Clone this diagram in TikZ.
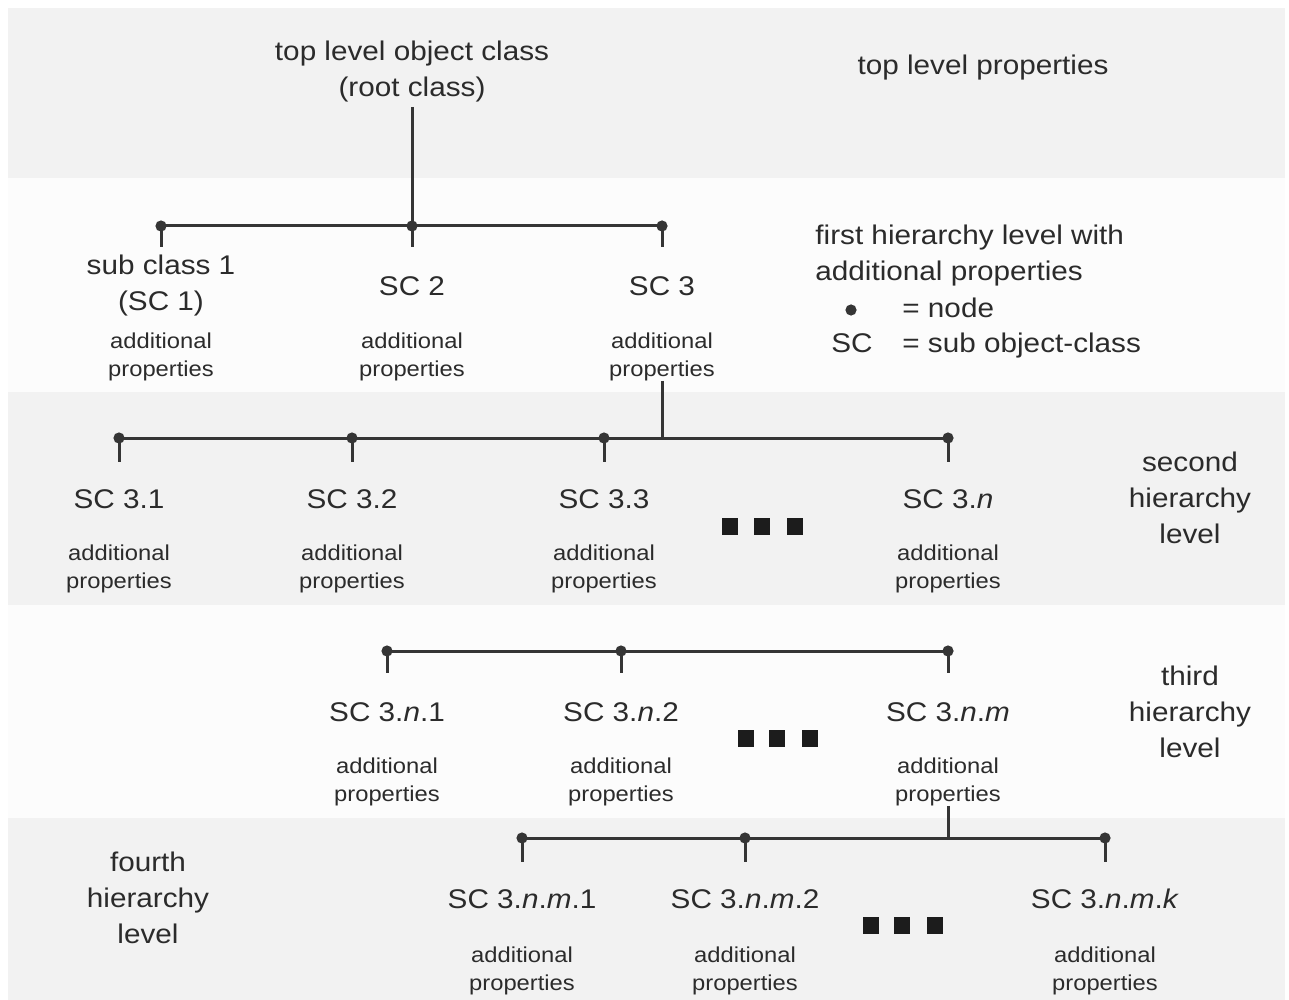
\documentclass[tikz,border=0pt]{standalone}
\usepackage{fontspec}
\setmainfont{Liberation Sans}[FakeStretch=1.1]
\definecolor{bandgray}{HTML}{F2F2F2}
\definecolor{offwhite}{HTML}{FCFCFC}
\definecolor{linegray}{HTML}{353535}
\definecolor{txt}{HTML}{2B2B2B}
\definecolor{sq}{HTML}{1C1C1C}
\tikzset{
  band/.style={fill=bandgray, draw=none},
  conn/.style={draw=linegray, line width=1.5pt},
  dot/.style={circle, fill=linegray, inner sep=0pt, minimum size=5.6pt},
  big/.style={font=\fontsize{13.5}{18}\selectfont, text=txt, inner sep=0pt, align=center},
  small/.style={font=\fontsize{10.8}{14}\selectfont, text=txt, inner sep=0pt, align=center},
  etc/.style={fill=sq, minimum width=8pt, minimum height=8.5pt, inner sep=0pt}
}
\begin{document}
\begin{tikzpicture}[x=0.5pt,y=-0.5pt]
\useasboundingbox (0,0) rectangle (1289,1000);
% background bands
\fill[offwhite] (8,8) rectangle (1285,1000);
\fill[band] (8,8) rectangle (1285,178);
\fill[band] (8,392) rectangle (1285,605);
\fill[band] (8,818) rectangle (1285,1000);

% top level (multi-line nodes: base = baseline of last line)
\node[big, anchor=base] (root) at (412,97) {top level object class\\(root class)};
\node[big, anchor=base] (toprops) at (983,75) {top level properties};

% first hierarchy level
\node[dot] (d1) at (161,226) {};
\node[dot] (d2) at (412,226) {};
\node[dot] (d3) at (662,226) {};
\node[big, anchor=base] (sc1) at (161,310) {sub class 1\\(SC 1)};
\node[big, anchor=base] (sc2) at (412,295) {SC 2};
\node[big, anchor=base] (sc3) at (662,295) {SC 3};
\node[small, anchor=base] (p1) at (161,376) {additional\\properties};
\node[small, anchor=base] (p2) at (412,376) {additional\\properties};
\node[small, anchor=base] (p3) at (662,376) {additional\\properties};

% legend
\node[big, anchor=base west, align=left] (leg) at (815,280) {first hierarchy level with\\additional properties};
\node[dot] (ldot) at (851,310) {};
\node[big, anchor=base west] (eqnode) at (902,317) {= node};
\node[big, anchor=base] (lsc) at (852,352) {SC};
\node[big, anchor=base west] (eqsc) at (902,352) {= sub object-class};

% second hierarchy level
\node[dot] (e1) at (119,438) {};
\node[dot] (e2) at (352,438) {};
\node[dot] (e3) at (604,438) {};
\node[dot] (e4) at (948,438) {};
\node[big, anchor=base] (sc31) at (119,508) {SC 3.1};
\node[big, anchor=base] (sc32) at (352,508) {SC 3.2};
\node[big, anchor=base] (sc33) at (604,508) {SC 3.3};
\node[big, anchor=base] (sc3n) at (948,508) {SC 3.\textit{n}};
\node[small, anchor=base] (p31) at (119,588) {additional\\properties};
\node[small, anchor=base] (p32) at (352,588) {additional\\properties};
\node[small, anchor=base] (p33) at (604,588) {additional\\properties};
\node[small, anchor=base] (p3n) at (948,588) {additional\\properties};
\node[etc] (sqa1) at (729.5,526.5) {};
\node[etc] (sqa2) at (762,526.5) {};
\node[etc] (sqa3) at (794.5,526.5) {};
\node[big, anchor=base] (lvl2) at (1190,543) {second\\hierarchy\\level};

% third hierarchy level
\node[dot] (f1) at (387,651) {};
\node[dot] (f2) at (621,651) {};
\node[dot] (f3) at (948,651) {};
\node[big, anchor=base] (sc3n1) at (387,721) {SC 3.\textit{n}.1};
\node[big, anchor=base] (sc3n2) at (621,721) {SC 3.\textit{n}.2};
\node[big, anchor=base] (sc3nm) at (948,721) {SC 3.\textit{n}.\textit{m}};
\node[small, anchor=base] (p3n1) at (387,801) {additional\\properties};
\node[small, anchor=base] (p3n2) at (621,801) {additional\\properties};
\node[small, anchor=base] (p3nm) at (948,801) {additional\\properties};
\node[etc] (sqb1) at (745.5,738.5) {};
\node[etc] (sqb2) at (777,738.5) {};
\node[etc] (sqb3) at (809.5,738.5) {};
\node[big, anchor=base] (lvl3) at (1190,757) {third\\hierarchy\\level};

% fourth hierarchy level
\node[dot] (g1) at (522,838) {};
\node[dot] (g2) at (745,838) {};
\node[dot] (g3) at (1105,838) {};
\node[big, anchor=base] (sc3nm1) at (522,908) {SC 3.\textit{n}.\textit{m}.1};
\node[big, anchor=base] (sc3nm2) at (745,908) {SC 3.\textit{n}.\textit{m}.2};
\node[big, anchor=base] (sc3nmk) at (1105,908) {SC 3.\textit{n}.\textit{m}.\textit{k}};
\node[small, anchor=base] (p3nm1) at (522,990) {additional\\properties};
\node[small, anchor=base] (p3nm2) at (745,990) {additional\\properties};
\node[small, anchor=base] (p3nmk) at (1105,990) {additional\\properties};
\node[etc] (sqc1) at (870.5,925) {};
\node[etc] (sqc2) at (902,925) {};
\node[etc] (sqc3) at (934.5,925) {};
\node[big, anchor=base] (lvl4) at (148,943) {fourth\\hierarchy\\level};

% connectors level 1
\draw[conn] ([yshift=-2pt]root.south) -- (d2.center);
\draw[conn] (d1.center) -- (d3.center);
\foreach \n in {d1,d2,d3} \draw[conn] (\n.center) -- ++(0,21);
% connectors level 2
\draw[conn] (p3.south) -- (p3.south |- e1.center);
\draw[conn] (e1.center) -- (e4.center);
\foreach \n in {e1,e2,e3,e4} \draw[conn] (\n.center) -- ++(0,24);
% connectors level 3
\draw[conn] (f1.center) -- (f3.center);
\foreach \n in {f1,f2,f3} \draw[conn] (\n.center) -- ++(0,22);
% connectors level 4
\draw[conn] (p3nm.south) -- (p3nm.south |- g1.center);
\draw[conn] (g1.center) -- (g3.center);
\foreach \n in {g1,g2,g3} \draw[conn] (\n.center) -- ++(0,24);
\end{tikzpicture}
\end{document}
